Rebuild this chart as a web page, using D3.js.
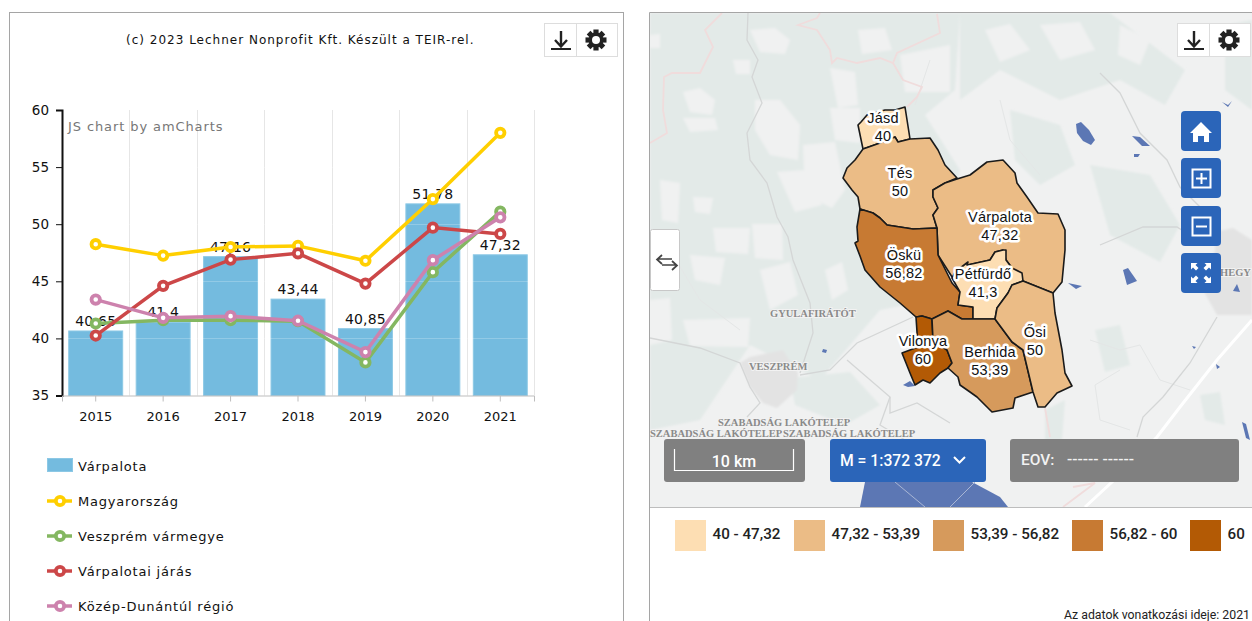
<!DOCTYPE html>
<html>
<head>
<meta charset="utf-8">
<script src="https://cdn.jsdelivr.net/npm/d3@7"></script>
<style>
html, body { margin: 0; padding: 0; background: #fff; overflow: hidden; }
svg { display: block; }
.chart-text { font-family: "DejaVu Sans", sans-serif; font-size: 13px; fill: #111; }
.wide-text { letter-spacing: 0.8px; }
.ui-text { font-family: Roboto, sans-serif; font-weight: 500; }
.place { font-family: "Liberation Serif", serif; font-weight: 700; font-size: 10.5px; fill: #8a8a8a; stroke: #f2f2f2; stroke-width: 2px; paint-order: stroke; }
.muni-label { font-family: "Liberation Sans", sans-serif; font-size: 14.5px; letter-spacing: 0.2px; fill: #111; stroke: #fff; stroke-width: 5px; stroke-linejoin: round; paint-order: stroke; text-anchor: middle; }
</style>
</head>
<body>
<div id="chart"></div>
<script>
// chart data
let years = ['2015', '2016', '2017', '2018', '2019', '2020', '2021'];
let varpalota = [40.65, 41.4, 47.16, 43.44, 40.85, 51.78, 47.32];
let magyarorszag = [48.25, 47.25, 48.0, 48.1, 46.8, 52.2, 58.0];
let veszprem = [41.3, 41.6, 41.6, 41.5, 37.9, 45.8, 51.1];
let jaras = [40.25, 44.6, 46.9, 47.45, 44.8, 49.7, 49.15];
let regio = [43.4, 41.8, 41.95, 41.55, 38.8, 46.85, 50.6];
let yTicks = [35, 40, 45, 50, 55, 60];
let lineNames = ['Magyarország', 'Veszprém vármegye', 'Várpalotai járás', 'Közép-Dunántúl régió'];
let lineColors = ['#ffcf00', '#84b761', '#cc4748', '#cd82ad'];
let lineValues = [magyarorszag, veszprem, jaras, regio];

// map data, rings are in map pixels
let muniNames = ['Jásd', 'Tés', 'Várpalota', 'Öskü', 'Pétfürdő', 'Vilonya', 'Berhida', 'Ősi'];
let muniValues = [40, 50, 47.32, 56.82, 41.3, 60, 53.39, 50];
let muniRings = [
  [[858,125],[861,122],[867,115],[885,110],[895,110],[905,107],[910,139],[898,142],[895,137],[880,143],[863,149]],
  [[863,149],[880,143],[895,137],[898,142],[910,139],[930,138],[938,150],[945,165],[957,178],[945,183],[933,190],[933,197],[938,208],[933,215],[937,228],[913,229],[887,225],[880,218],[873,213],[860,209],[858,197],[852,190],[843,178],[847,168],[855,160]],
  [[957,179],[970,175],[987,162],[1003,160],[1015,173],[1017,183],[1027,197],[1038,213],[1058,214],[1065,230],[1065,250],[1062,282],[1053,293],[1023,281],[1012,268],[1006,260],[1003,250],[995,252],[990,260],[968,265],[954,280],[938,255],[937,228],[933,215],[938,208],[933,197],[933,190],[945,183]],
  [[860,209],[873,213],[880,218],[887,225],[913,229],[937,228],[938,255],[952,283],[960,292],[958,305],[973,307],[973,319],[962,319],[948,311],[932,319],[922,316],[916,317],[900,303],[880,287],[865,270],[860,256],[855,243],[858,241],[857,227]],
  [[990,260],[995,252],[1003,250],[1006,250],[1006,260],[1012,268],[1022,273],[1023,281],[1012,285],[1008,293],[997,308],[995,319],[973,319],[973,307],[958,305],[960,292],[952,278],[955,272],[968,262],[967,265]],
  [[916,317],[922,316],[932,319],[933,340],[947,350],[952,363],[948,368],[940,373],[930,383],[923,380],[915,385],[910,373],[902,353],[918,347]],
  [[932,319],[948,311],[962,319],[995,319],[1012,342],[1023,350],[1033,392],[1015,398],[1013,408],[992,412],[977,397],[970,392],[960,385],[958,377],[948,368],[952,363],[947,350],[933,340]],
  [[995,319],[997,308],[1008,293],[1012,285],[1023,281],[1053,293],[1055,313],[1062,350],[1065,373],[1072,386],[1057,393],[1045,407],[1038,407],[1033,392],[1023,350],[1012,342]]
];
let muniFills = ['#fddeb3', '#ebbc86', '#ebbc86', '#c77a33', '#fddeb3', '#b35a05', '#d69a5c', '#ebbc86'];
let labelAnchors = [[883,123],[900,178],[1000,222],[904,260],[983,279],[923,346],[990,357],[1035,337]];

let forestRings = [
  [[650,13],[960,13],[955,90],[925,115],[960,170],[930,300],[880,310],[820,380],[750,345],[700,420],[650,430]],
  [[960,13],[1110,13],[1185,70],[1165,105],[1120,80],[1060,100],[1000,70],[960,100]],
  [[1010,110],[1060,125],[1075,165],[1040,185],[1015,160]],
  [[1090,165],[1150,175],[1180,225],[1160,262],[1110,235]],
  [[1225,25],[1252,20],[1252,110],[1225,90]],
  [[1095,330],[1120,325],[1130,365],[1105,372]],
  [[1045,410],[1065,400],[1062,440],[1045,440]],
  [[1200,395],[1220,392],[1225,425],[1205,420]],
  [[790,378],[850,372],[880,405],[845,425],[795,405]]
];
let clearingRings = [
  [[683,92],[700,88],[715,100],[712,115],[690,112]],
  [[750,30],[775,28],[790,40],[785,54],[760,52]],
  [[755,100],[780,100],[800,125],[798,160],[770,155],[755,130]],
  [[830,68],[855,72],[858,105],[838,108]],
  [[858,30],[885,28],[892,50],[862,54]],
  [[803,145],[835,142],[845,190],[832,208],[805,195]],
  [[777,172],[805,170],[822,205],[795,212]],
  [[683,118],[715,118],[718,130],[690,132]],
  [[733,60],[750,60],[750,74],[736,74]],
  [[693,197],[713,198],[710,214],[695,212]],
  [[660,180],[680,183],[678,223],[662,220]],
  [[713,228],[750,228],[748,254],[716,252]],
  [[752,224],[782,224],[783,260],[755,258]],
  [[900,55],[950,45],[950,92],[905,92]],
  [[830,108],[860,108],[860,143],[835,140]],
  [[650,35],[660,34],[660,48],[650,48]],
  [[683,320],[750,318],[748,347],[690,346]],
  [[650,300],[670,298],[672,340],[650,345]],
  [[760,270],[790,262],[798,295],[770,310]],
  [[825,270],[842,262],[848,290],[832,300]],
  [[985,30],[1010,24],[1030,50],[1000,62]],
  [[1040,25],[1080,22],[1095,50],[1060,60]],
  [[960,100],[990,85],[1010,105],[985,125],[960,125]],
  [[1120,25],[1150,40],[1140,65],[1118,55]],
  [[690,255],[725,258],[720,285],[695,280]]
];
let cityRings = [
  [[740,363],[750,357],[783,350],[798,373],[797,390],[777,408],[763,403],[750,387]],
  [[1203,290],[1215,250],[1215,232],[1233,228],[1252,240],[1252,315],[1217,315]]
];
let waterRings = [
  [[1076,124],[1081,122],[1089,130],[1095,140],[1091,145],[1083,141],[1077,133]],
  [[1123,270],[1128,268],[1137,281],[1127,285]],
  [[903,385],[910,381],[915,386],[908,387]],
  [[1132,136],[1140,137],[1150,146],[1142,146]],
  [[1134,154],[1140,154],[1138,157],[1134,157]],
  [[1222,102],[1228,105],[1232,101],[1228,107]],
  [[1242,422],[1246,424],[1250,440],[1246,438]],
  [[1233,291],[1237,284],[1240,292]],
  [[1192,346],[1196,347],[1194,349]],
  [[1216,364],[1220,367],[1217,369]],
  [[823,349],[827,350],[826,353],[822,352]],
  [[1068,283],[1082,286],[1076,289]],
  [[860,507],[865,482],[972,482],[1000,497],[1008,507]]
];
let roadLines = [
  [[748,13],[747,40],[758,60],[752,77],[762,103],[747,133],[750,160],[767,183],[777,217],[788,237],[793,260],[810,303],[813,333],[800,373]],
  [[650,338],[700,348],[740,363],[750,387],[760,403],[747,417]],
  [[800,375],[830,370],[857,343],[913,317]],
  [[847,360],[890,397],[890,413],[917,403],[950,423]],
  [[890,397],[880,425],[905,440]],
  [[1137,437],[1143,417],[1163,397],[1190,363],[1217,317]],
  [[1100,73],[1120,93],[1140,133],[1167,160],[1180,187],[1200,207],[1217,233]],
  [[1100,245],[1143,227],[1177,227],[1197,240]]
];
let faintLines = [
  [[1090,340],[1120,350],[1140,345],[1160,380],[1190,390]],
  [[1120,370],[1095,385],[1100,420],[1130,430]],
  [[1000,100],[1010,140],[1040,175]],
  [[930,60],[915,105]],
  [[670,250],[700,300],[740,330]]
];
let waterLines = [
  [[895,482],[925,507]],
  [[950,507],[975,482]]
];
let motorwayLines = [[[1085,507],[1125,470],[1157,437],[1180,407],[1217,360],[1252,320]]];
let borderLines = [
  [[650,143],[667,133],[663,110],[664,77],[672,73],[700,73],[713,47],[705,30],[722,13]],
  [[820,13],[817,18],[798,25],[817,30],[830,50],[832,63],[837,58],[857,63],[880,58],[893,63],[897,53],[940,33],[937,14]],
  [[893,63],[903,80],[922,87],[917,97],[907,107]],
  [[1045,408],[1050,437]],
  [[1063,507],[1095,483],[1073,487]]
];
let placeNames = ['GYULAFIRÁTÓT', 'VESZPRÉM', 'SZABADSÁG LAKÓTELEP', 'SZABADSÁG LAKÓTELEP', 'SZABADSÁG LAKÓTELEP', 'HEGY'];
let placeAnchors = [[770,317],[749,370],[718,426],[650,437],[783,437],[1220,276]];

let classLabels = ['40 - 47,32', '47,32 - 53,39', '53,39 - 56,82', '56,82 - 60', '60'];
let classColors = ['#fddeb3', '#ebbc86', '#d69a5c', '#c77a33', '#b35a05'];
let classX = [675, 794, 933, 1072, 1190];

let width = 1252;
let height = 621;

let svg = d3.select('#chart').append('svg')
    .attr('width', width)
    .attr('height', height);

// ---- left panel ----
svg.append('rect').attr('x', 9.5).attr('y', 12.5).attr('width', 614).attr('height', 640)
    .attr('fill', '#fff').attr('stroke', '#a5a5a5');

svg.append('text').attr('class', 'chart-text').attr('x', 126).attr('y', 44)
    .style('font-size', '12px').style('letter-spacing', '1px')
    .text('(c) 2023 Lechner Nonprofit Kft. Készült a TEIR-rel.');

let x = d3.scaleBand().domain(years).range([62, 534]).paddingInner(0.2).paddingOuter(0.1);
let y = d3.scaleLinear().domain([35, 60]).range([395.5, 110]);
let step = x.step();
let bandMid = d => x(d) + x.bandwidth() / 2;

// vertical grid at the band edges
svg.append('g').selectAll('line').data(years.slice(1).concat('end')).join('line')
    .attr('x1', d => d === 'end' ? 534.5 : Math.round(bandMid(d) - step / 2) + 0.5)
    .attr('x2', d => d === 'end' ? 534.5 : Math.round(bandMid(d) - step / 2) + 0.5)
    .attr('y1', y(60)).attr('y2', y(35))
    .attr('stroke', '#e6e6e6');

svg.append('g').selectAll('rect').data(varpalota).join('rect')
    .attr('x', (d, i) => x(years[i]))
    .attr('y', d => y(d))
    .attr('width', x.bandwidth())
    .attr('height', d => y(35) - y(d))
    .attr('fill', '#74bbdf')
    .attr('stroke', '#8cc8e5');

// faint horizontal grid shows over the bars
svg.append('g').selectAll('line').data(yTicks.slice(1, -1)).join('line')
    .attr('x1', 62).attr('x2', 534)
    .attr('y1', d => Math.round(y(d)) + 0.5).attr('y2', d => Math.round(y(d)) + 0.5)
    .attr('stroke', '#fff').attr('stroke-opacity', 0.22);

svg.append('g').selectAll('text').data(varpalota).join('text')
    .attr('class', 'chart-text')
    .attr('x', (d, i) => bandMid(years[i]))
    .attr('y', d => y(d) - 5)
    .attr('text-anchor', 'middle')
    .style('font-size', '14px')
    .style('letter-spacing', '0.2px')
    .text(d => String(d).replace('.', ','));

let yAxis = svg.append('g').attr('transform', 'translate(62,0)')
    .call(d3.axisLeft(y).tickValues(yTicks).tickSize(6).tickPadding(7));
yAxis.selectAll('text').attr('class', 'chart-text').style('font-size', '13.5px');
yAxis.selectAll('.domain').attr('stroke', '#111').attr('stroke-width', 2);
yAxis.selectAll('.tick line').attr('stroke', '#111');

let xAxis = svg.append('g').attr('transform', 'translate(0,395.5)')
    .call(d3.axisBottom(x).tickSize(6).tickPadding(10));
xAxis.selectAll('text').attr('class', 'chart-text');
xAxis.selectAll('.domain').attr('stroke', '#bdbdbd');
xAxis.selectAll('.tick line').attr('stroke', '#bdbdbd');

let line = d3.line().x((d, i) => bandMid(years[i])).y(d => y(d));

// drawing order of the reference: yellow, green, red, pink
lineValues.forEach((vals, k) => {
  let g = svg.append('g');
  g.append('path').attr('d', line(vals))
      .attr('fill', 'none').attr('stroke', lineColors[k]).attr('stroke-width', 3.5);
  g.selectAll('circle').data(vals).join('circle')
      .attr('cx', (d, i) => bandMid(years[i]))
      .attr('cy', d => y(d))
      .attr('r', 4.2)
      .attr('fill', '#fff')
      .attr('stroke', lineColors[k])
      .attr('stroke-width', 3.8);
});

// legend
let legend = svg.append('g');
legend.append('rect').attr('x', 47.5).attr('y', 458.5).attr('width', 25).attr('height', 13)
    .attr('fill', '#74bbdf').attr('stroke', '#8cc8e5');
legend.append('text').attr('class', 'chart-text wide-text').attr('x', 78).attr('y', 470.5).text('Várpalota');
lineNames.forEach((name, k) => {
  let ly = 501 + k * 35;
  legend.append('line').attr('x1', 47).attr('x2', 72).attr('y1', ly).attr('y2', ly)
      .attr('stroke', lineColors[k]).attr('stroke-width', 3.5);
  legend.append('circle').attr('cx', 60).attr('cy', ly).attr('r', 4.2)
      .attr('fill', '#fff').attr('stroke', lineColors[k]).attr('stroke-width', 3.8);
  legend.append('text').attr('class', 'chart-text wide-text').attr('x', 78).attr('y', ly + 4.5).text(name);
});

svg.append('text').attr('x', 68).attr('y', 131)
    .style('font-family', '"DejaVu Sans", sans-serif').style('font-size', '13px').style('letter-spacing', '0.9px')
    .attr('fill', '#777').text('JS chart by amCharts');

// toolbar icons
function downloadIcon(g, cx) {
  g.append('path').attr('d', `M${cx},31V46M${cx - 6},40L${cx},46.5L${cx + 6},40`)
      .attr('fill', 'none').attr('stroke', '#222').attr('stroke-width', 2.4);
  g.append('line').attr('x1', cx - 10).attr('x2', cx + 10).attr('y1', 49).attr('y2', 49)
      .attr('stroke', '#222').attr('stroke-width', 2);
}
function gearIcon(g, cx) {
  let cy = 40;
  let gear = g.append('g').attr('transform', `translate(${cx},${cy})`);
  d3.range(4).forEach(i => {
    gear.append('rect').attr('x', -2.6).attr('y', -10.5).attr('width', 5.2).attr('height', 21)
        .attr('fill', '#222').attr('transform', `rotate(${i * 45})`);
  });
  gear.append('circle').attr('r', 7.4).attr('fill', '#222');
  gear.append('circle').attr('r', 4).attr('fill', '#fff');
}
function toolbar(x0) {
  let g = svg.append('g');
  g.append('rect').attr('x', x0 + 0.5).attr('y', 23.5).attr('width', 73).attr('height', 33)
      .attr('fill', '#fff').attr('stroke', '#ddd');
  g.append('line').attr('x1', x0 + 32.5).attr('x2', x0 + 32.5).attr('y1', 23).attr('y2', 57).attr('stroke', '#ddd');
  downloadIcon(g, x0 + 17);
  gearIcon(g, x0 + 52);
}
toolbar(544);

// ---- map panel ----
let defs = svg.append('defs');
defs.append('filter').attr('id', 'soft').append('feGaussianBlur').attr('stdDeviation', 1.3);
let clip = svg.append('clipPath').attr('id', 'map-clip');
clip.append('rect').attr('x', 650).attr('y', 13).attr('width', 602).attr('height', 494);

let map = svg.append('g').attr('clip-path', 'url(#map-clip)');
map.append('rect').attr('x', 650).attr('y', 13).attr('width', 602).attr('height', 494).attr('fill', '#f0f1f1');

let projection = d3.geoIdentity();
let mapPath = d3.geoPath(projection);
let asPolygon = ring => ({ type: 'Polygon', coordinates: [ring.concat([ring[0]])] });
let asLine = pts => ({ type: 'LineString', coordinates: pts });

let base = map.append('g').attr('filter', 'url(#soft)');

function drawRings(parent, rings, fill) {
  parent.append('g').selectAll('path').data(rings).join('path')
      .attr('d', r => mapPath(asPolygon(r)))
      .attr('fill', fill);
}
function drawLines(parent, lines, color, w) {
  parent.append('g').selectAll('path').data(lines).join('path')
      .attr('d', l => mapPath(asLine(l)))
      .attr('fill', 'none').attr('stroke', color).attr('stroke-width', w);
}

drawRings(base, forestRings, '#e3eae8');
drawRings(base, clearingRings, '#f0f1f1');
drawRings(base, cityRings, '#e3e3e3');
drawLines(map, faintLines, '#e4e6e6', 1);
drawLines(map, borderLines, '#f0dcdc', 1.8);
drawLines(map, roadLines, '#d4d6d6', 1.3);
drawLines(map, motorwayLines, '#ffffff', 3);
drawRings(map, waterRings, '#5c77b4');
drawLines(map, waterLines, '#a9b6d4', 1);

map.append('g').selectAll('path').data(muniRings).join('path')
    .attr('d', r => mapPath(asPolygon(r)))
    .attr('fill', (r, i) => muniFills[i])
    .attr('stroke', '#1a1a1a').attr('stroke-width', 1.6).attr('stroke-linejoin', 'round');

placeNames.forEach((name, i) => {
  map.append('text').attr('class', 'place')
      .attr('x', placeAnchors[i][0]).attr('y', placeAnchors[i][1]).text(name);
});

muniNames.forEach((name, i) => {
  let a = labelAnchors[i];
  map.append('text').attr('class', 'muni-label').attr('x', a[0]).attr('y', a[1]).text(name);
  map.append('text').attr('class', 'muni-label').attr('x', a[0]).attr('y', a[1] + 18)
      .text(String(muniValues[i]).replace('.', ','));
});

// panel border
svg.append('path').attr('d', 'M649.5,640V12.5H1252').attr('fill', 'none').attr('stroke', '#a5a5a5');
svg.append('line').attr('x1', 650).attr('x2', 1252).attr('y1', 507.5).attr('y2', 507.5).attr('stroke', '#bdbdbd');

toolbar(1177);

// map buttons
let btnTop = [111, 158, 206, 253];
let btns = svg.append('g');
btns.selectAll('rect').data(btnTop).join('rect')
    .attr('x', 1181).attr('y', d => d).attr('width', 40).attr('height', 40).attr('rx', 4)
    .attr('fill', '#2b65b9');
// home
btns.append('path').attr('d', 'M1201,122L1212,133H1209V142H1204V136H1198V142H1193V133H1190Z').attr('fill', '#fff');
// plus and minus boxes
[158, 206].forEach(t => {
  btns.append('rect').attr('x', 1192.5).attr('y', t + 11.5).attr('width', 18).attr('height', 18)
      .attr('fill', 'none').attr('stroke', '#fff').attr('stroke-width', 2);
  btns.append('line').attr('x1', 1196).attr('x2', 1207).attr('y1', t + 20.5).attr('y2', t + 20.5)
      .attr('stroke', '#fff').attr('stroke-width', 2);
});
btns.append('line').attr('x1', 1201.5).attr('x2', 1201.5).attr('y1', 173).attr('y2', 184)
    .attr('stroke', '#fff').attr('stroke-width', 2);
// fullscreen arrows
[[1, 1], [-1, 1], [1, -1], [-1, -1]].forEach(s => {
  let cx = 1201 - s[0] * 10, cy = 273 - s[1] * 10;
  btns.append('path')
      .attr('d', `M${cx},${cy}h${s[0] * 6.5}l${-s[0] * 2},${s[1] * 2}l${s[0] * 3},${s[1] * 3}l${-s[0] * 2.5},${s[1] * 2.5}l${-s[0] * 3},${-s[1] * 3}l${-s[0] * 2},${s[1] * 2}z`)
      .attr('fill', '#fff');
});

// side toggle
svg.append('rect').attr('x', 650.5).attr('y', 229.5).attr('width', 29).attr('height', 61).attr('rx', 2)
    .attr('fill', '#fff').attr('stroke', '#c8c8c8');
svg.append('path').attr('d', 'M672,259H658M662,255L657,259.5L662,264M662,265H676M672,261L677,265.5L672,270')
    .attr('fill', 'none').attr('stroke', '#444').attr('stroke-width', 1.7);

// scale bar, scale selector, coordinates
svg.append('rect').attr('x', 664).attr('y', 439).attr('width', 141).attr('height', 43).attr('rx', 3).attr('fill', '#808080');
svg.append('path').attr('d', 'M674.5,449V470.5H793.5V449').attr('fill', 'none').attr('stroke', '#fff').attr('stroke-width', 1.2);
svg.append('text').attr('class', 'ui-text').attr('x', 734).attr('y', 467).attr('text-anchor', 'middle')
    .attr('fill', '#fff').style('font-size', '16px').text('10 km');

svg.append('rect').attr('x', 830).attr('y', 439).attr('width', 156).attr('height', 43).attr('rx', 3).attr('fill', '#2b65b9');
svg.append('text').attr('class', 'ui-text').attr('x', 840).attr('y', 466)
    .attr('fill', '#fff').style('font-size', '15.7px').text('M = 1:372 372');
svg.append('path').attr('d', 'M954,457L959.5,462.5L965,457').attr('fill', 'none').attr('stroke', '#fff').attr('stroke-width', 2);

svg.append('rect').attr('x', 1010).attr('y', 439).attr('width', 229).attr('height', 43).attr('rx', 3).attr('fill', '#808080');
svg.append('text').attr('class', 'ui-text').attr('x', 1021).attr('y', 465)
    .attr('fill', '#f2f2f2').style('font-size', '15.5px').text('EOV:');
svg.append('text').attr('class', 'ui-text').attr('x', 1067).attr('y', 464)
    .attr('fill', '#f2f2f2').style('font-size', '15.5px').text('------ ------');

// class legend
classLabels.forEach((label, i) => {
  svg.append('rect').attr('x', classX[i]).attr('y', 520).attr('width', 31).attr('height', 31).attr('fill', classColors[i]);
  svg.append('text').attr('class', 'ui-text').attr('x', classX[i] + 37.5).attr('y', 538.5)
      .attr('fill', '#222').style('font-size', '15.2px').text(label);
});

svg.append('text').attr('x', 1250).attr('y', 619).attr('text-anchor', 'end')
    .style('font-family', 'Roboto, sans-serif').style('font-size', '12.3px')
    .attr('fill', '#222').text('Az adatok vonatkozási ideje: 2021');
</script>
</body>
</html>
